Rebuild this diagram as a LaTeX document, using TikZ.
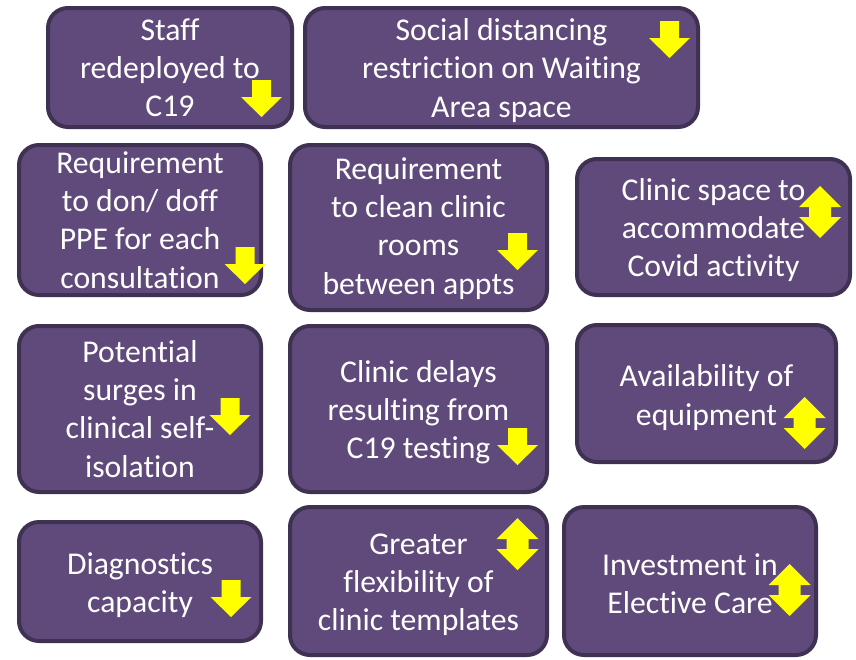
\documentclass[tikz,border=0pt]{standalone}
\usepackage{fontspec}
\setmainfont{Carlito}[Ligatures={NoCommon}]
\definecolor{boxfill}{HTML}{604A7B}
\definecolor{boxline}{HTML}{3F3151}
\definecolor{arrowyellow}{HTML}{FFFF00}
\begin{document}
\begin{tikzpicture}[x=1pt,y=-1pt,
  box/.style={draw=boxline, fill=boxfill, line width=4pt, rounded corners=20pt, inner sep=0pt},
  txt/.style={text=white, align=center, inner sep=0pt,
    font=\fontsize{31.7}{38.2}\selectfont},
  downarrow/.pic={\fill[arrowyellow] (-9.5,0)--(9.5,0)--(9.5,17)--(20.5,17)--(0,37)--(-20.5,17)--(-9.5,17)--cycle;},
  updownarrow/.pic={\fill[arrowyellow] (0,0)--(21,21)--(11,21)--(11,31)--(21,31)--(0,52)--(-21,31)--(-11,31)--(-11,21)--(-21,21)--cycle;}
]
\useasboundingbox (0,0) rectangle (856,659);
\fill[white] (0,0) rectangle (856,659);

\node[box, minimum width=244pt, minimum height=119pt] (staff) at (170,67.5) {};
\node[box, minimum width=393pt, minimum height=119pt] (social) at (501.5,67.5) {};
\node[box, minimum width=242pt, minimum height=150pt] (ppe) at (140,220) {};
\node[box, minimum width=257pt, minimum height=165pt] (clean) at (418.5,227.5) {};
\node[box, minimum width=273pt, minimum height=136pt] (space) at (713.5,227) {};
\node[box, minimum width=242pt, minimum height=166pt] (surges) at (140,409) {};
\node[box, minimum width=257pt, minimum height=166pt] (delays) at (418.5,409) {};
\node[box, minimum width=259pt, minimum height=137pt] (equip) at (706.5,393.5) {};
\node[box, minimum width=242pt, minimum height=119pt] (diag) at (140,581.5) {};
\node[box, minimum width=257pt, minimum height=148pt] (flex) at (418.5,581) {};
\node[box, minimum width=252pt, minimum height=148pt] (invest) at (690,581) {};

\node[txt] (staff-t) at ([yshift=0pt]staff.center) {Staff\\redeployed to\\C19};
\node[txt] (social-t) at ([yshift=-3pt]social.center) {Social distancing\\restriction on Waiting\\Area space};
\node[txt] (ppe-t) at ([yshift=0pt]ppe.center) {Requirement\\to don/ doff\\PPE for each\\consultation};
\node[txt] (clean-t) at ([yshift=-1pt]clean.center) {Requirement\\to clean clinic\\rooms\\between appts};
\node[txt] (space-t) at ([yshift=-3pt]space.center) {Clinic space to\\accommodate\\Covid activity};
\node[txt] (surges-t) at ([yshift=0pt]surges.center) {Potential\\surges in\\clinical self-\\isolation};
\node[txt] (delays-t) at ([yshift=-3pt]delays.center) {Clinic delays\\resulting from\\C19 testing};
\node[txt] (equip-t) at ([yshift=-4pt]equip.center) {Availability of\\equipment};
\node[txt] (diag-t) at ([yshift=-4pt]diag.center) {Diagnostics\\capacity};
\node[txt] (flex-t) at ([yshift=-4pt]flex.center) {Greater\\flexibility of\\clinic templates};
\node[txt] (invest-t) at ([yshift=-3pt]invest.center) {Investment in\\Elective Care};

\pic at (261.5,80) {downarrow};
\pic at (669.5,21) {downarrow};
\pic at (245,247) {downarrow};
\pic at (517.5,233) {downarrow};
\pic at (820,186) {updownarrow};
\pic at (230,398) {downarrow};
\pic at (517.5,428) {downarrow};
\pic at (804.5,397) {updownarrow};
\pic at (231,580) {downarrow};
\pic at (517.5,518) {updownarrow};
\pic at (789.5,564) {updownarrow};
\end{tikzpicture}
\end{document}
